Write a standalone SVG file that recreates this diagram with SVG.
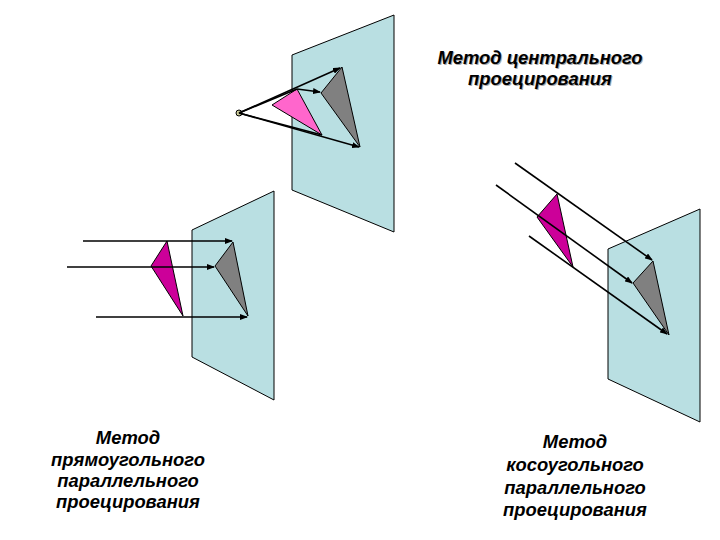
<svg xmlns="http://www.w3.org/2000/svg" width="720" height="540" viewBox="0 0 720 540">
<style>
.pl{fill:#b9dfe2;stroke:#000;stroke-width:1}
.pk{fill:#cc0099;stroke:#000;stroke-width:1}
.gr{fill:#808080;stroke:#000;stroke-width:1}
.ar{stroke:#000;stroke-width:1.6;fill:none;marker-end:url(#a)}
.ln{stroke:#000;stroke-width:1.6;fill:none}
.t{font-family:"Liberation Sans",Arial,sans-serif;font-size:18.4px;font-weight:bold;font-style:italic;text-anchor:middle;fill:#000}
.sh{fill:#aaa}
</style>
<defs><marker id="a" markerWidth="8" markerHeight="6" refX="7" refY="3" orient="auto" markerUnits="userSpaceOnUse"><path d="M0,0L8,3L0,6z" fill="#000"/></marker></defs>
<g id="plane-central"><polygon class="pl" points="292,55 394,15 394,232 292,190"/></g>
<g id="plane-rect"><polygon class="pl" points="192,230 274,191 274,400 192,357"/></g>
<g id="plane-oblique"><polygon class="pl" points="608,249 700,209 700,422 608,379"/></g>
<g id="tri-central">
<polygon class="gr" points="321,93 342,67 360,147"/>
<polygon fill="#ff66cc" stroke="#000" points="272,105 297,89 322,135"/>
<circle cx="239" cy="113" r="3" fill="#cc9" stroke="#000"/>
</g>
<g id="tri-rect"><polygon class="pk" points="167,241 151,266 183,316"/><polygon class="gr" points="233,242 215,266 248,316"/></g>
<g id="tri-oblique"><polygon class="pk" points="557,194 537,217 573,267"/><polygon class="gr" points="653,261 633,283 669,335"/></g>
<g id="connectors">
<path class="ar" d="M239,113L340,68"/>
<path class="ar" d="M239,113L359,147"/>
<path class="ln" d="M239,113L297,89"/>
<path class="ar" d="M297,89L320,92"/>
<path class="ln" d="M239,113L322,135"/>
<path class="ar" d="M83,241L232,241"/>
<path class="ar" d="M67,267L214,267"/>
<path class="ar" d="M96,317L247,317"/>
<path class="ar" d="M515,163L652,260"/>
<path class="ar" d="M496,185L632,283"/>
<path class="ar" d="M529,236L667,334"/>
</g>
<g id="labels">
<text class="t sh" x="541" y="65">Метод центрального</text><text class="t" x="540" y="64">Метод центрального</text>
<text class="t sh" x="541" y="86">проецирования</text><text class="t" x="540" y="85">проецирования</text>
<g class="t">
<text x="128" y="444">Метод</text><text x="128" y="466">прямоугольного</text><text x="128" y="487">параллельного</text><text x="128" y="508">проецирования</text>
<text x="575" y="448">Метод</text><text x="575" y="471">косоугольного</text><text x="575" y="494">параллельного</text><text x="575" y="516">проецирования</text>
</g>
</g>
</svg>
